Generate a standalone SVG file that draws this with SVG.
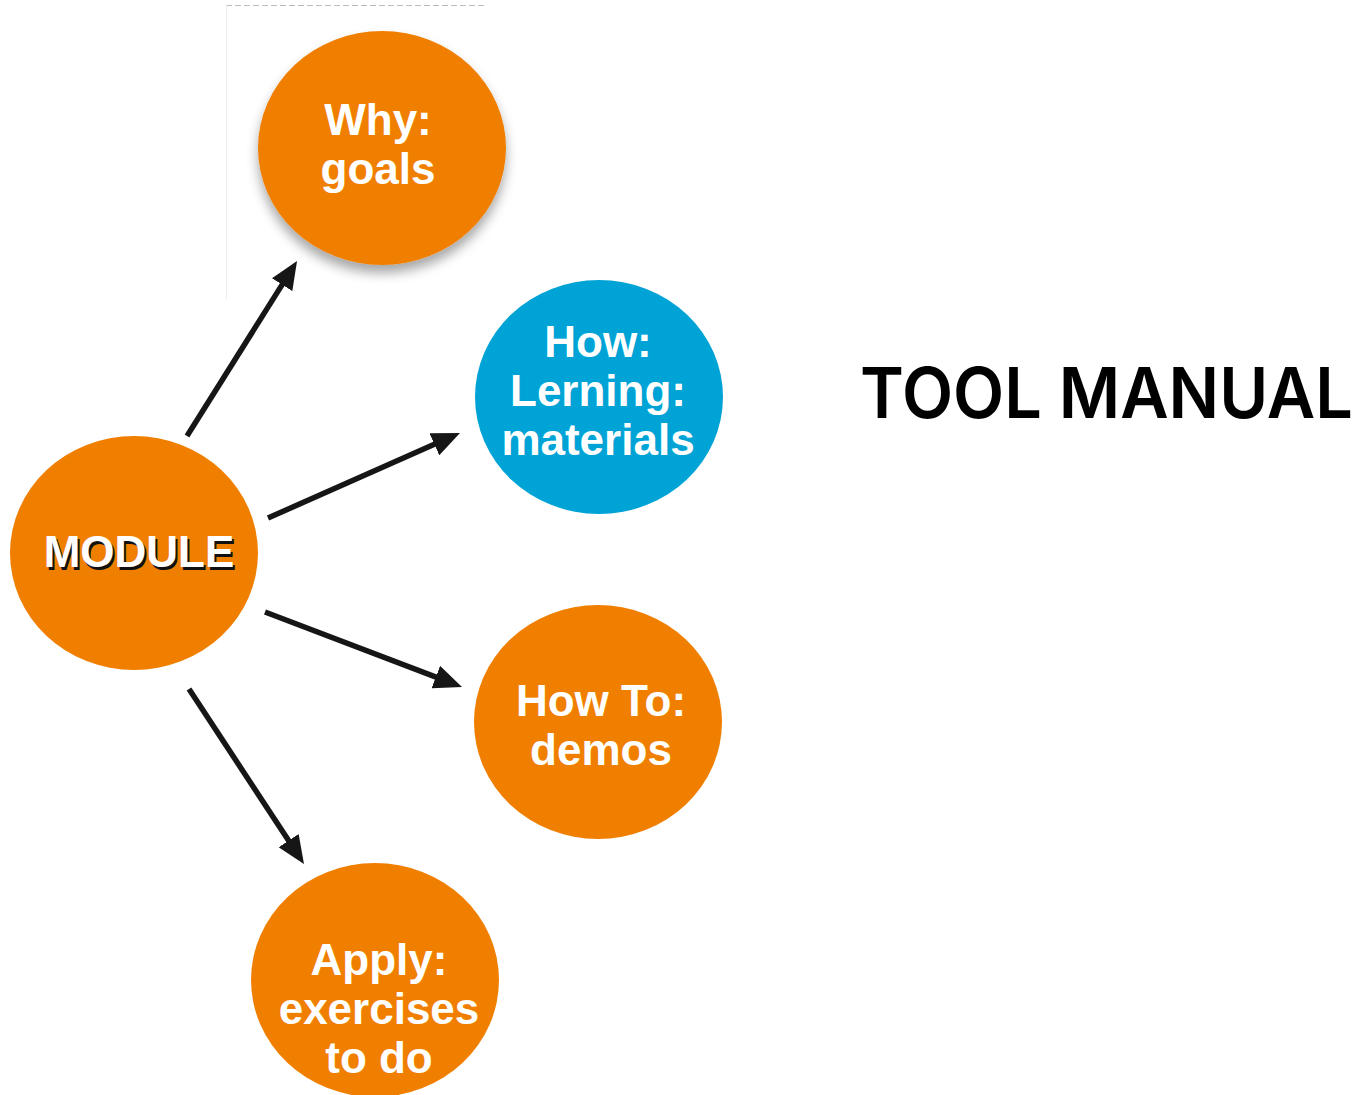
<svg xmlns="http://www.w3.org/2000/svg" width="1362" height="1095" viewBox="0 0 1362 1095">
<style>
.node{fill:#F07F00}
.blue{fill:#00A3D6}
.lbl{font-family:"Liberation Sans",Arial,sans-serif;font-weight:bold;font-size:44px;fill:#fff;text-anchor:middle}
.conn{stroke:#161616;stroke-width:5.5;fill:none;marker-end:url(#ah)}
.title{font-family:Inter,"Liberation Sans",Arial,sans-serif;font-weight:600;font-size:70px;fill:#000}
</style>
<defs>
<marker id="ah" viewBox="0 0 28 24" refX="8" refY="12" markerWidth="28" markerHeight="24" markerUnits="userSpaceOnUse" orient="auto">
<path d="M0,0 L28,12 L0,24 z" fill="#161616"/>
</marker>
<filter id="sh" x="-20%" y="-20%" width="140%" height="150%">
<feDropShadow dx="0" dy="8" stdDeviation="6" flood-color="#000" flood-opacity="0.35"/>
</filter>
</defs>
<rect width="1362" height="1095" fill="#fff"/>
<g id="frame">
<line x1="226" y1="5.5" x2="484" y2="5.5" stroke="#bbb" stroke-width="1" stroke-dasharray="6,3"/>
<line x1="226.5" y1="5" x2="226.5" y2="300" stroke="#eee" stroke-width="1"/>
</g>
<g id="connectors">
<line class="conn" x1="187" y1="436" x2="286.4" y2="277.9"/>
<line class="conn" x1="268" y1="518" x2="441.7" y2="441.1"/>
<line class="conn" x1="265" y1="612" x2="443.3" y2="679.9"/>
<line class="conn" x1="189" y1="689" x2="293" y2="847.3"/>
</g>
<g id="why">
<ellipse class="node" cx="382" cy="148" rx="124" ry="117" filter="url(#sh)"/>
<text class="lbl" x="378" y="135">Why:</text>
<text class="lbl" x="378" y="184">goals</text>
</g>
<g id="how">
<ellipse class="blue" cx="599" cy="397" rx="124" ry="117"/>
<text class="lbl" x="598" y="357">How:</text>
<text class="lbl" x="598" y="406">Lerning:</text>
<text class="lbl" x="598" y="455">materials</text>
</g>
<g id="howto">
<ellipse class="node" cx="598" cy="722" rx="124" ry="117"/>
<text class="lbl" x="601" y="716">How To:</text>
<text class="lbl" x="601" y="765">demos</text>
</g>
<g id="apply">
<ellipse class="node" cx="375" cy="980" rx="124" ry="117"/>
<text class="lbl" x="379" y="975">Apply:</text>
<text class="lbl" x="379" y="1024">exercises</text>
<text class="lbl" x="379" y="1073">to do</text>
</g>
<g id="module">
<ellipse class="node" cx="134" cy="553" rx="124" ry="117"/>
<text class="lbl" x="141" y="570" style="fill:#111">MODULE</text>
<text class="lbl" x="139" y="567">MODULE</text>
</g>
<g id="title">
<text class="title" x="860" y="418" textLength="493" lengthAdjust="spacingAndGlyphs">TOOL MANUAL</text>
</g>
</svg>
